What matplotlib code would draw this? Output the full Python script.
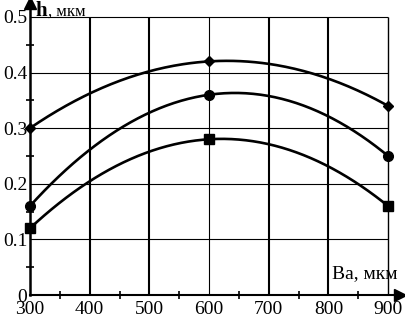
import numpy as np
import matplotlib
matplotlib.use("Agg")
import matplotlib.pyplot as plt

plt.rcParams['font.family'] = ['Liberation Serif', 'DejaVu Serif']

# data
ba = [300, 600, 900]
h_top = [0.30, 0.42, 0.34]
h_mid = [0.16, 0.36, 0.25]
h_low = [0.12, 0.28, 0.16]

x_ticks = [300, 400, 500, 600, 700, 800, 900]
y_ticks = [0, 0.1, 0.2, 0.3, 0.4, 0.5]
y_labels = ["0", "0.1", "0.2", "0.3", "0.4", "0.5"]

fig = plt.figure(figsize=(4.05, 3.18), dpi=100)
ax = fig.add_axes([30/405, 23/318, 370/405, 292/318])
ax.set_xlim(300, 920)
ax.set_ylim(0, 0.525)

# grid drawn by hand (only up to 900 / 0.5)
grid_lw = {400: 1.5, 500: 1.5, 600: 0.8, 700: 1.5, 800: 1.5, 900: 1.0}
for xv in x_ticks[1:]:
    ax.vlines(xv, 0, 0.5, color='black', lw=grid_lw[xv], zorder=1)
for yv in y_ticks[1:]:
    ax.hlines(yv, 300, 900, color='black', lw=0.8, zorder=1)

# smoothed lines through the points
xs = np.linspace(300, 900, 200)
for ys, mk, ms in [(h_top, 'D', 5), (h_mid, 'o', 7), (h_low, 's', 7)]:
    coef = np.polyfit(ba, ys, 2)
    ax.plot(xs, np.polyval(coef, xs), color='black', lw=1.9, zorder=3)
    ax.plot(ba, ys, ls='', marker=mk, ms=ms, color='black', zorder=4, clip_on=False)

for s in ['top', 'right']:
    ax.spines[s].set_visible(False)
ax.spines['left'].set_linewidth(1.8)
ax.spines['bottom'].set_linewidth(1.5)

ax.set_xticks(x_ticks)
ax.set_xticklabels([str(v) for v in x_ticks])
ax.set_yticks(y_ticks)
ax.set_yticklabels(y_labels)
ax.set_xticks([350, 450, 550, 650, 750, 850], minor=True)
ax.set_yticks([0.05, 0.15, 0.25, 0.35, 0.45], minor=True)
ax.tick_params(axis='both', which='major', labelsize=14, length=0, pad=2)
ax.tick_params(axis='x', which='major', pad=4)
ax.tick_params(axis='both', which='minor', direction='inout', length=6, width=1.2)

# arrows at the axis ends
ax.plot(1, 0, '>k', ms=9, transform=ax.get_yaxis_transform(), clip_on=False)
ax.plot(300, 1, '^k', ms=9, transform=ax.get_xaxis_transform(), clip_on=False)

ax.text(309, 0.502, "h", fontsize=15, fontweight='bold', va='baseline', ha='left')
ax.text(330, 0.502, ", мкм", fontsize=12, va='baseline', ha='left')
ax.text(916, 0.038, "Ва, мкм", fontsize=14, va='center', ha='right')

fig.savefig("out.png", dpi=100)
